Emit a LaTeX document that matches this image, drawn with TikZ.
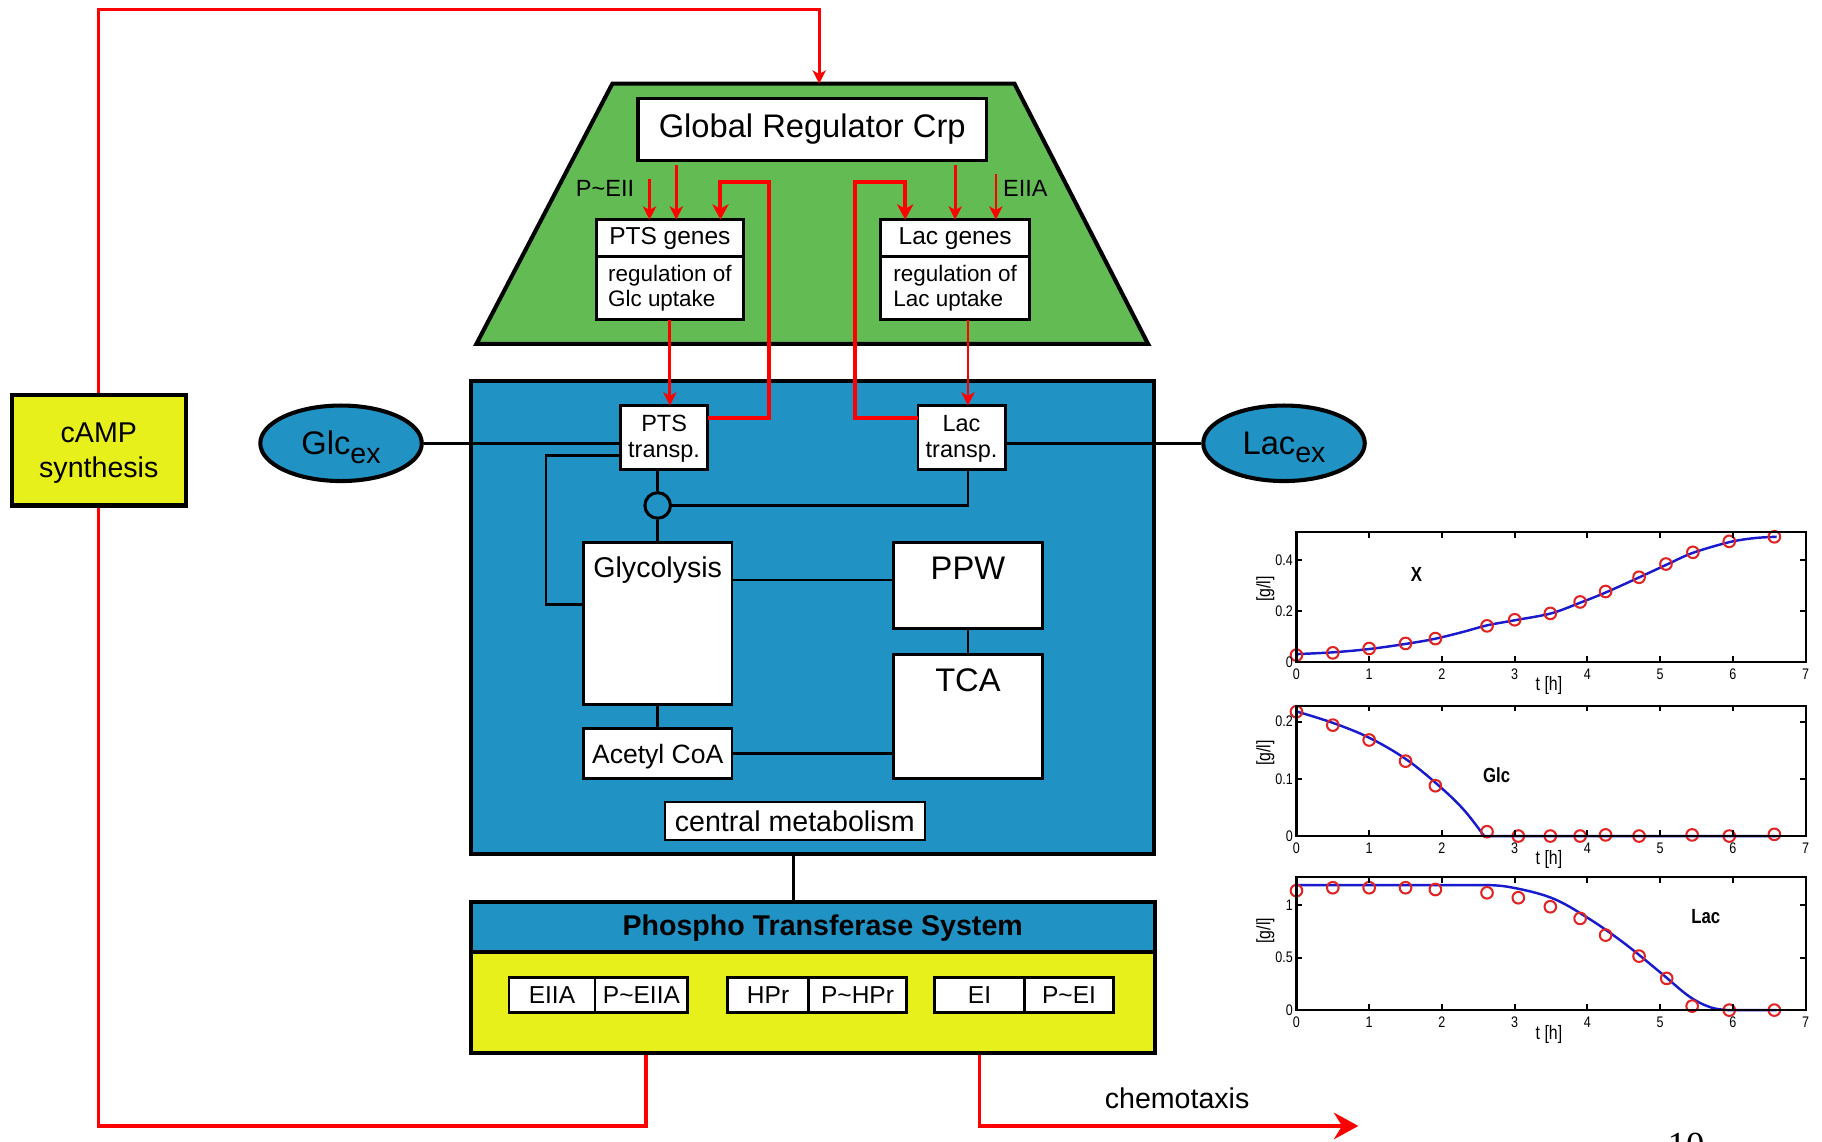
\documentclass[tikz,border=0pt]{standalone}
\usepackage{fontspec}
\setmainfont{Liberation Sans}
\newfontfamily\plotfont[FakeStretch=0.82]{Liberation Sans}
\newfontfamily\pagenofont{Liberation Serif}
\usetikzlibrary{arrows.meta,fit,shapes.geometric}

\definecolor{regGreen}{RGB}{99,187,84}
\definecolor{cellBlue}{RGB}{32,147,196}
\definecolor{ptsYellow}{RGB}{232,240,27}
\definecolor{sigRed}{RGB}{255,0,0}
\definecolor{curveBlue}{RGB}{25,25,205}
\definecolor{markRed}{RGB}{225,35,35}

\tikzset{
  heavy/.style={draw=black, line width=2pt},
  whitebox/.style={draw=black, fill=white, line width=1.4pt, inner sep=0pt, outer sep=0pt},
  boxtext/.style={inner sep=0pt},
  link/.style={draw=black, line width=1.3pt},
  redtip/.style={-{Stealth[length=6.5pt,width=6.5pt,inset=1.8pt]}},
  bigtip/.style={-{Stealth[length=7.5pt,width=8pt,inset=2.2pt]}},
  sigthin/.style={draw=sigRed, line width=1.1pt, redtip},
  sigmed/.style={draw=sigRed, line width=1.4pt, redtip},
  sigthick/.style={draw=sigRed, line width=2pt, bigtip},
  loopline/.style={draw=sigRed, line width=1.6pt},
  chemoline/.style={draw=sigRed, line width=1.8pt, -{Stealth[length=12pt,width=13pt,inset=4pt]}},
  axisframe/.style={draw=black, line width=1.1pt},
  tickmark/.style={draw=black, line width=0.9pt},
  fitcurve/.style={draw=curveBlue, line width=1.2pt},
  datamark/.style={draw=markRed, line width=1pt},
  ticklab/.style={font=\plotfont\fontsize{7.5}{8}\selectfont, inner sep=1pt},
  axlab/.style={font=\plotfont\fontsize{9.5}{10}\selectfont, inner sep=0pt},
  serieslab/.style={font=\plotfont\bfseries\fontsize{10}{11}\selectfont, inner sep=0pt},
}

\begin{document}
\begin{tikzpicture}[x=0.02cm, y=-0.02cm]
\useasboundingbox (0,0) rectangle (1568,982);
\fill[white] (0,0) rectangle (1568,982);

% ---------------- regulation layer (trapezoid) ----------------
\draw[heavy, fill=regGreen] (527,72) -- (873,72) -- (988,296) -- (410,296) -- cycle;
\coordinate (crpIn) at (705,72);

\node[whitebox, line width=1.6pt, fit={(549,85)(849,138)}] (crp) {};
\node[boxtext, font=\fontsize{16}{19}\selectfont] (crpLab) at (crp.center) {Global Regulator Crp};

\node[whitebox, fit={(513,189)(640,221)}] (ptsGenes) {};
\node[boxtext, font=\fontsize{12}{14}\selectfont] (ptsGenesLab) at (ptsGenes.center) {PTS genes};
\node[whitebox, fit={(513,221)(640,275)}] (ptsReg) {};
\node[boxtext, font=\fontsize{11}{12.5}\selectfont, align=left] (ptsRegLab) at (ptsReg.center) {regulation of\\Glc uptake};
\node[whitebox, fit={(758,189)(886,221)}] (lacGenes) {};
\node[boxtext, font=\fontsize{12}{14}\selectfont] (lacGenesLab) at (lacGenes.center) {Lac genes};
\node[whitebox, fit={(758,221)(886,275)}] (lacReg) {};
\node[boxtext, font=\fontsize{11}{12.5}\selectfont, align=left] (lacRegLab) at (lacReg.center) {regulation of\\Lac uptake};

\node[font=\fontsize{11.5}{13}\selectfont, anchor=east, inner sep=0pt] (peiiLab) at (546,162) {P\textasciitilde EII};
\node[font=\fontsize{11.5}{13}\selectfont, anchor=west, inner sep=0pt] (eiiaLab) at (863,162) {EIIA};

% ---------------- central metabolism ----------------
\node[heavy, fill=cellBlue, inner sep=0pt, fit={(405,328)(993,735)}] (cell) {};

\node[whitebox, fit={(534,349)(609,404)}] (ptsT) {};
\node[boxtext, font=\fontsize{11.5}{13}\selectfont, align=center] (ptsTLab) at ([yshift=-0.6pt]ptsT.center) {PTS\\transp.};
\node[whitebox, fit={(790,349)(865,404)}] (lacT) {};
\node[boxtext, font=\fontsize{11.5}{13}\selectfont, align=center] (lacTLab) at ([yshift=-0.6pt]lacT.center) {Lac\\transp.};

\node[ellipse, heavy, fill=cellBlue, inner sep=0pt, minimum width=2.78cm, minimum height=1.3cm] (glcEx) at (293.5,381.5) {};
\node[boxtext, font=\fontsize{16}{18}\selectfont] (glcExLab) at ([yshift=-2pt]glcEx.center)
      {Glc\raisebox{-0.25em}{\fontsize{14}{14}\selectfont ex}};
\node[ellipse, heavy, fill=cellBlue, inner sep=0pt, minimum width=2.78cm, minimum height=1.3cm] (lacEx) at (1105,381.5) {};
\node[boxtext, font=\fontsize{16}{18}\selectfont] (lacExLab) at ([yshift=-2pt]lacEx.center)
      {Lac\raisebox{-0.25em}{\fontsize{14}{14}\selectfont ex}};

\node[circle, draw=black, line width=1.5pt, inner sep=0pt, minimum size=0.44cm] (junc) at (566,435) {};

\node[whitebox, fit={(502,467)(630,606)}] (gly) {};
\node[boxtext, font=\fontsize{14}{16}\selectfont] (glyLab) at (566,491) {Glycolysis};
\node[whitebox, fit={(769,467)(897,541)}] (ppw) {};
\node[boxtext, font=\fontsize{16}{18}\selectfont] (ppwLab) at (833,489) {PPW};
\node[whitebox, fit={(769,563)(897,670)}] (tca) {};
\node[boxtext, font=\fontsize{16}{18}\selectfont] (tcaLab) at (833,585) {TCA};
\node[whitebox, fit={(502,627)(630,670)}] (acoa) {};
\node[boxtext, font=\fontsize{13}{15}\selectfont] (acoaLab) at ([yshift=-1.5pt]acoa.center) {Acetyl CoA};
\node[whitebox, line width=1.1pt, fit={(572,690)(796,723)}] (cm) {};
\node[boxtext, font=\fontsize{14}{16}\selectfont] (cmLab) at (cm.center) {central metabolism};

% metabolic connections
\draw[link] (glcEx.east) -- (glcEx.east -| ptsT.west);
\draw[link] (ptsT.west |- 0,392) -| (470,520) -- (gly.west |- 0,520);
\draw[link] (lacT.east |- lacEx.west) -- (lacEx.west);
\draw[link] (ptsT.south -| junc.north) -- (junc.north);
\draw[link] (junc.south) -- (gly.north -| junc.south);
\draw[link] (lacT.south -| 833,0) |- (junc.east);
\draw[link] (gly.east |- 0,499) -- (ppw.west |- 0,499);
\draw[link] (ppw.south) -- (tca.north);
\draw[link] (gly.south) -- (acoa.north);
\draw[link] (acoa.east) -- (tca.west |- acoa.east);

% ---------------- phosphotransferase system ----------------
\node[heavy, fill=cellBlue, inner sep=0pt, fit={(405,776)(994,819)}] (ptsHead) {};
\node[boxtext, font=\bfseries\fontsize{14}{16}\selectfont] (ptsTitle) at (708,799) {Phospho Transferase System};
\node[heavy, fill=ptsYellow, inner sep=0pt, fit={(405,819)(994,906)}] (ptsBody) {};

\node[whitebox, fit={(438,841)(512,871)}] (eiia) {};
\node[boxtext, font=\fontsize{12}{14}\selectfont] (eiiaTxt) at (eiia.center) {EIIA};
\node[whitebox, fit={(512,841)(592,871)}] (peiia) {};
\node[boxtext, font=\fontsize{12}{14}\selectfont] (peiiaTxt) at (peiia.center) {P\textasciitilde EIIA};
\node[whitebox, fit={(626,841)(696,871)}] (hpr) {};
\node[boxtext, font=\fontsize{12}{14}\selectfont] (hprTxt) at (hpr.center) {HPr};
\node[whitebox, fit={(696,841)(780,871)}] (phpr) {};
\node[boxtext, font=\fontsize{12}{14}\selectfont] (phprTxt) at (phpr.center) {P\textasciitilde HPr};
\node[whitebox, fit={(804,841)(882,871)}] (ei) {};
\node[boxtext, font=\fontsize{12}{14}\selectfont] (eiTxt) at (ei.center) {EI};
\node[whitebox, fit={(882,841)(958,871)}] (pei) {};
\node[boxtext, font=\fontsize{12}{14}\selectfont] (peiTxt) at (pei.center) {P\textasciitilde EI};

\draw[link] (cell.south -| 683,0) -- (ptsHead.north -| 683,0);

% ---------------- cAMP ----------------
\node[heavy, fill=ptsYellow, inner sep=0pt, fit={(10,340)(160,435)}] (camp) {};
\node[boxtext, font=\fontsize{14}{17}\selectfont, align=center] (campLab) at ([yshift=-1.5pt]camp.center) {cAMP\\synthesis};

% ---------------- regulatory signals ----------------
\draw[sigthin] (559,154) -- (ptsGenes.north -| 559,0);
\draw[sigmed, shorten <=2.3pt] (crp.south -| 582,0) -- (ptsGenes.north -| 582,0);
\draw[sigthick] (ptsT.east |- 0,360) -| (662,157) -| (ptsGenes.north -| 620,0);

\draw[sigthick] (lacT.west |- 0,360) -| (736,157) -| (lacGenes.north -| 779,0);
\draw[sigmed, shorten <=2.3pt] (crp.south -| 822,0) -- (lacGenes.north -| 822,0);
\draw[sigthin] (857,150) -- (lacGenes.north -| 857,0);

\draw[sigmed] (ptsReg.south) -- (ptsT.north -| ptsReg.south);
\draw[sigmed] (lacReg.south -| 833,0) -- (lacT.north -| 833,0);

\draw[loopline] (ptsBody.south -| 556,0) |- (camp.south |- 0,969) -- (camp.south);
\draw[loopline, redtip] (camp.north) -- (camp.north |- 0,8) -| (crpIn);

\coordinate (chemoEnd) at (1169,969);
\draw[chemoline] (ptsBody.south -| 843,0) |- (chemoEnd);
\node[font=\fontsize{14}{16}\selectfont] (chemoLab) at (1013,945) {chemotaxis};

% ---------------- time courses ----------------
\def\plotXo{1115.7}
\def\plotXs{62.6}

% biomass X
\begin{scope}
\def\plotYb{569.5}\def\plotYs{219}\def\plotYt{457.8}
\begin{scope}[shift={(\plotXo,\plotYb)}, xscale=\plotXs, yscale=-\plotYs]
\draw[fitcurve] plot[smooth, tension=0.55] coordinates {(0,0.03) (0.5,0.037) (1,0.05) (1.5,0.07) (1.9,0.09) (2.3,0.118) (2.62,0.143) (3.0,0.163) (3.5,0.19) (3.9,0.232) (4.25,0.272) (4.7,0.33) (5.1,0.383) (5.45,0.428) (5.95,0.47) (6.3,0.486) (6.6,0.491)};
\end{scope}
\foreach \tv/\vv in {0/0.026,0.5/0.035,1.0/0.052,1.5/0.072,1.91/0.091,2.62/0.141,3.0/0.165,3.49/0.19,3.9/0.235,4.25/0.276,4.71/0.332,5.08/0.384,5.45/0.43,5.95/0.473,6.57/0.491}
  \draw[datamark] ({\plotXo+\tv*\plotXs},{\plotYb-\vv*\plotYs}) circle[radius=5];
\draw[axisframe] (\plotXo,\plotYt) rectangle ({\plotXo+7*\plotXs},\plotYb);
\foreach \tv in {1,...,6} {
  \draw[tickmark] ({\plotXo+\tv*\plotXs},\plotYb) -- ++(0,-5);
  \draw[tickmark] ({\plotXo+\tv*\plotXs},\plotYt) -- ++(0,5);
}
\foreach \tv in {0,...,7}
  \node[ticklab, anchor=north] (xa\tv) at ({\plotXo+\tv*\plotXs},{\plotYb+4}) {\tv};
\foreach \vv/\lab [count=\i] in {0/0,0.2/0.2,0.4/0.4} {
  \draw[tickmark] (\plotXo,{\plotYb-\vv*\plotYs}) -- ++(5,0);
  \draw[tickmark] ({\plotXo+7*\plotXs},{\plotYb-\vv*\plotYs}) -- ++(-5,0);
  \node[ticklab, anchor=east] (ya\i) at ({\plotXo-1},{\plotYb-\vv*\plotYs}) {\lab};
}
\node[axlab] (xaT) at (1333,590) {t [h]};
\node[axlab, rotate=90] (yaG) at (1089,507) {[g/l]};
\node[serieslab] (xaName) at (1219,494) {X};
\end{scope}

% glucose
\begin{scope}
\def\plotYb{719.5}\def\plotYs{492}\def\plotYt{607.3}
\begin{scope}[shift={(\plotXo,\plotYb)}, xscale=\plotXs, yscale=-\plotYs]
\draw[fitcurve] plot[smooth, tension=0.6] coordinates {(0,0.218) (0.5,0.198) (1,0.172) (1.5,0.135) (1.95,0.089) (2.3,0.046) (2.58,0)} -- (6.6,0);
\end{scope}
\foreach \tv/\vv in {0/0.2175,0.5/0.194,1.0/0.168,1.5/0.131,1.91/0.088,2.62/0.0076,3.05/0,3.49/0,3.9/0,4.25/0.002,4.71/0,5.44/0.002,5.95/0,6.57/0.003}
  \draw[datamark] ({\plotXo+\tv*\plotXs},{\plotYb-\vv*\plotYs}) circle[radius=5];
\draw[axisframe] (\plotXo,\plotYt) rectangle ({\plotXo+7*\plotXs},\plotYb);
\foreach \tv in {1,...,6} {
  \draw[tickmark] ({\plotXo+\tv*\plotXs},\plotYb) -- ++(0,-5);
  \draw[tickmark] ({\plotXo+\tv*\plotXs},\plotYt) -- ++(0,5);
}
\foreach \tv in {0,...,7}
  \node[ticklab, anchor=north] (xb\tv) at ({\plotXo+\tv*\plotXs},{\plotYb+4}) {\tv};
\foreach \vv/\lab [count=\i] in {0/0,0.1/0.1,0.2/0.2} {
  \draw[tickmark] (\plotXo,{\plotYb-\vv*\plotYs}) -- ++(5,0);
  \draw[tickmark] ({\plotXo+7*\plotXs},{\plotYb-\vv*\plotYs}) -- ++(-5,0);
  \node[ticklab, anchor=east] (yb\i) at ({\plotXo-1},{\plotYb-\vv*\plotYs}) {\lab};
}
\node[axlab] (xbT) at (1333,740) {t [h]};
\node[axlab, rotate=90] (ybG) at (1089,648) {[g/l]};
\node[serieslab] (xbName) at (1288,667) {Glc};
\end{scope}

% lactose
\begin{scope}
\def\plotYb{869.3}\def\plotYs{90.4}\def\plotYt{754.5}
\begin{scope}[shift={(\plotXo,\plotYb)}, xscale=\plotXs, yscale=-\plotYs]
\draw[fitcurve] (0,1.19) -- (2.5,1.19) plot[smooth, tension=0.6] coordinates {(2.5,1.19) (2.9,1.175) (3.5,1.07) (4.0,0.88) (4.5,0.64) (5.0,0.36) (5.4,0.13) (5.7,0.025) (5.95,0)} -- (6.6,0);
\end{scope}
\foreach \tv/\vv in {0/1.137,0.5/1.165,1/1.165,1.5/1.165,1.91/1.148,2.62/1.117,3.05/1.07,3.49/0.984,3.9/0.873,4.25/0.714,4.71/0.514,5.09/0.302,5.44/0.038,5.95/0,6.57/0}
  \draw[datamark] ({\plotXo+\tv*\plotXs},{\plotYb-\vv*\plotYs}) circle[radius=5];
\draw[axisframe] (\plotXo,\plotYt) rectangle ({\plotXo+7*\plotXs},\plotYb);
\foreach \tv in {1,...,6} {
  \draw[tickmark] ({\plotXo+\tv*\plotXs},\plotYb) -- ++(0,-5);
  \draw[tickmark] ({\plotXo+\tv*\plotXs},\plotYt) -- ++(0,5);
}
\foreach \tv in {0,...,7}
  \node[ticklab, anchor=north] (xc\tv) at ({\plotXo+\tv*\plotXs},{\plotYb+4}) {\tv};
\foreach \vv/\lab [count=\i] in {0/0,0.5/0.5,1/1} {
  \draw[tickmark] (\plotXo,{\plotYb-\vv*\plotYs}) -- ++(5,0);
  \draw[tickmark] ({\plotXo+7*\plotXs},{\plotYb-\vv*\plotYs}) -- ++(-5,0);
  \node[ticklab, anchor=east] (yc\i) at ({\plotXo-1},{\plotYb-\vv*\plotYs}) {\lab};
}
\node[axlab] (xcT) at (1333,890) {t [h]};
\node[axlab, rotate=90] (ycG) at (1089,801) {[g/l]};
\node[serieslab] (xcName) at (1468,789) {Lac};
\end{scope}

% page number at the lower edge
\node[font=\pagenofont\fontsize{18}{18}\selectfont, anchor=north, inner sep=0pt] (pageNo) at (1451,975) {10};
\end{tikzpicture}
\end{document}
